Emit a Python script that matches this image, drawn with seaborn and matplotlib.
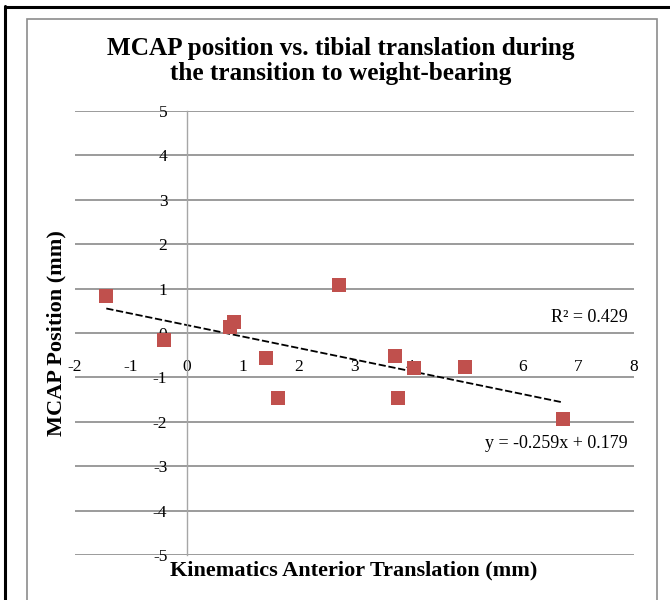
import matplotlib
matplotlib.use("Agg")
import matplotlib.pyplot as plt
import seaborn as sns
import numpy as np
import pandas as pd
from matplotlib.lines import Line2D
from matplotlib.patches import Rectangle

# values
translation = [-1.44, -0.40, 0.78, 0.85, 1.42, 1.64, 2.72, 3.72, 3.78, 4.06, 4.98, 6.73]
mcap = [0.84, -0.15, 0.13, 0.25, -0.56, -1.47, 1.08, -0.52, -1.47, -0.79, -0.77, -1.94]
slope = -0.259
intercept = 0.179
r_squared = 0.429
x_ticks = list(range(-2, 9))
y_ticks = list(range(-5, 6))

df = pd.DataFrame({"translation": translation, "mcap": mcap})
line_x = np.array([min(translation), max(translation)])
trend = pd.DataFrame({"x": line_x, "y": slope * line_x + intercept})

sns.set_style("white")
plt.rcParams["font.family"] = ["Liberation Serif", "DejaVu Serif"]
plt.rcParams["axes.unicode_minus"] = False
plt.rcParams["text.color"] = "black"
plt.rcParams["axes.labelcolor"] = "black"

fig = plt.figure(figsize=(6.7, 6.0), dpi=100)
ax = fig.add_axes([75 / 670, 0.075, 559 / 670, 0.74])

ax.set_xlim(-2, 8)
ax.set_ylim(-5, 5)
ax.set_xticks(x_ticks)
ax.set_yticks(y_ticks)
ax.yaxis.grid(True, color="#8a8a8a", linewidth=1.2)
ax.xaxis.grid(False)
ax.set_axisbelow(True)
for gl, t in zip(ax.get_ygridlines(), y_ticks):
    if t == -4:
        gl.set_linewidth(2.6)

for side in ["top", "right"]:
    ax.spines[side].set_visible(False)
ax.spines["left"].set_position(("data", 0))
ax.spines["left"].set_color("#a6a6a6")
ax.spines["left"].set_linewidth(1)
ax.spines["bottom"].set_position(("data", 0))
ax.spines["bottom"].set_color("none")

ax.tick_params(axis="both", length=0, labelsize=12.5, colors="black")
ax.tick_params(axis="x", pad=18.5)
ax.tick_params(axis="y", pad=14)

sns.lineplot(data=trend, x="x", y="y", ax=ax, color="black", linewidth=1.3,
             dashes=False, linestyle=(0, (4, 1.5)), zorder=2)
sns.scatterplot(data=df, x="translation", y="mcap", ax=ax, marker="s",
                color="#c0504d", s=90, linewidth=0, zorder=3)

ax.set_xlabel("Kinematics Anterior Translation (mm)", fontsize=16,
              fontweight="bold", va="center")
ax.xaxis.set_label_coords(0.499, -0.036)
ax.set_ylabel("MCAP Position (mm)", fontsize=16, fontweight="bold", va="center")
ax.yaxis.set_label_coords(-0.034, 0.5)

ax.text(0.989, 0.534, f"R² = {r_squared:.3f}", transform=ax.transAxes,
        ha="right", va="center", fontsize=13)
ax.text(0.989, 0.252, f"y = {slope:.3f}x + {intercept:.3f}", transform=ax.transAxes,
        ha="right", va="center", fontsize=13)

fig.text(341 / 670, 1 - 61 / 600,
         "MCAP position vs. tibial translation during\nthe transition to weight-bearing",
         ha="center", va="center", fontsize=18.2, fontweight="bold", linespacing=1.15)

# outer borders
fig.add_artist(Line2D([5 / 670, 5 / 670], [0, 1 - 6 / 600], color="black",
                      linewidth=2.2, transform=fig.transFigure))
fig.add_artist(Line2D([5 / 670, 1], [1 - 7 / 600, 1 - 7 / 600], color="black",
                      linewidth=2.2, transform=fig.transFigure))
fig.add_artist(Rectangle((27 / 670, -0.02), 630 / 670, 1.02 - 19 / 600,
                         fill=False, edgecolor="#8c8c8c", linewidth=1.2,
                         transform=fig.transFigure))

fig.savefig("out.png", dpi=100)
